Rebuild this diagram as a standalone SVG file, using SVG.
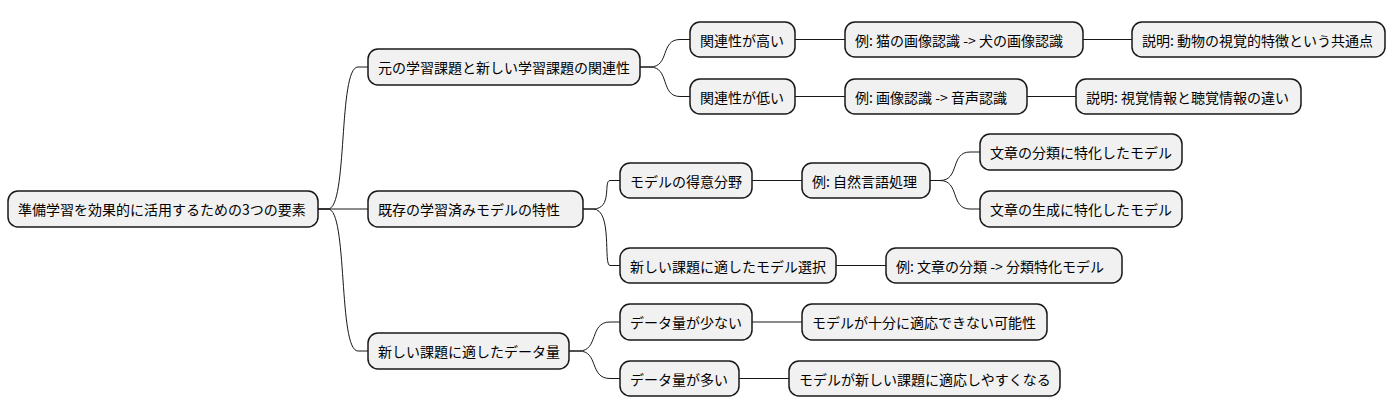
<svg xmlns="http://www.w3.org/2000/svg" width="1395" height="415" viewBox="0 0 1395 415">
<style>
.n rect{fill:#F1F1F1;stroke:#181818;stroke-width:1.5}
.n text{font-family:"Noto Sans CJK JP","Noto Sans",sans-serif;font-size:14px;fill:#000;dominant-baseline:central}
#c path{fill:none;stroke:#181818;stroke-width:1}
</style>
<rect width="1395" height="415" fill="#fff"/>
<g id="c">
<path d="M318,209 H328 C348,209 338,67 358,67 H368"/>
<path d="M318,209 H368"/>
<path d="M318,209 H328 C348,209 338,351 358,351 H368"/>
<path d="M640,67 H650 C670,67 660,39.5 680,39.5 H690"/>
<path d="M640,67 H650 C670,67 660,96.5 680,96.5 H690"/>
<path d="M795,39.5 H845"/><path d="M1083,39.5 H1132"/>
<path d="M795,96.5 H845"/><path d="M1027,96.5 H1076"/>
<path d="M583,209 H593 C613,209 603,180.5 610,180.5 H620"/>
<path d="M583,209 H593 C613,209 603,265.5 610,265.5 H620"/>
<path d="M752,180.5 H802"/>
<path d="M930,180.5 H940 C960,180.5 950,152 970,152 H980"/>
<path d="M930,180.5 H940 C960,180.5 950,209 970,209 H980"/>
<path d="M836,265.5 H886"/>
<path d="M569,351 H579 C599,351 589,322 610,322 H620"/>
<path d="M569,351 H579 C599,351 589,378.5 610,378.5 H620"/>
<path d="M752,322 H802"/><path d="M739,378.5 H789"/>
</g>
<g id="root" class="n"><rect x="8" y="191" width="310" height="36" rx="10"/><text x="18" y="209">準備学習を効果的に活用するための3つの要素</text></g>
<g id="a" class="n"><rect x="368" y="49" width="272" height="36" rx="10"/><text x="378" y="67">元の学習課題と新しい学習課題の関連性</text></g>
<g id="b" class="n"><rect x="368" y="191" width="215" height="36" rx="10"/><text x="378" y="209">既存の学習済みモデルの特性</text></g>
<g id="cc" class="n"><rect x="368" y="333" width="201" height="36" rx="10"/><text x="378" y="351">新しい課題に適したデータ量</text></g>
<g id="a1" class="n"><rect x="690" y="22" width="105" height="35" rx="10"/><text x="700" y="39.5">関連性が高い</text></g>
<g id="a2" class="n"><rect x="690" y="79" width="105" height="35" rx="10"/><text x="700" y="96.5">関連性が低い</text></g>
<g id="a1e" class="n"><rect x="845" y="22" width="238" height="35" rx="10"/><text x="855" y="39.5">例: 猫の画像認識 -&gt; 犬の画像認識</text></g>
<g id="a1d" class="n"><rect x="1132" y="22" width="253" height="35" rx="10"/><text x="1142" y="39.5">説明: 動物の視覚的特徴という共通点</text></g>
<g id="a2e" class="n"><rect x="845" y="79" width="182" height="35" rx="10"/><text x="855" y="96.5">例: 画像認識 -&gt; 音声認識</text></g>
<g id="a2d" class="n"><rect x="1076" y="79" width="225" height="35" rx="10"/><text x="1086" y="96.5">説明: 視覚情報と聴覚情報の違い</text></g>
<g id="b1" class="n"><rect x="620" y="163" width="132" height="35" rx="10"/><text x="630" y="180.5">モデルの得意分野</text></g>
<g id="b1e" class="n"><rect x="802" y="163" width="128" height="35" rx="10"/><text x="812" y="180.5">例: 自然言語処理</text></g>
<g id="b1a" class="n"><rect x="980" y="134" width="202" height="36" rx="10"/><text x="990" y="152">文章の分類に特化したモデル</text></g>
<g id="b1b" class="n"><rect x="980" y="191" width="202" height="36" rx="10"/><text x="990" y="209">文章の生成に特化したモデル</text></g>
<g id="b2" class="n"><rect x="620" y="248" width="216" height="35" rx="10"/><text x="630" y="265.5">新しい課題に適したモデル選択</text></g>
<g id="b2e" class="n"><rect x="886" y="248" width="236" height="35" rx="10"/><text x="896" y="265.5">例: 文章の分類 -&gt; 分類特化モデル</text></g>
<g id="c1" class="n"><rect x="620" y="304" width="132" height="36" rx="10"/><text x="630" y="322">データ量が少ない</text></g>
<g id="c1e" class="n"><rect x="802" y="304" width="245" height="36" rx="10"/><text x="812" y="322">モデルが十分に適応できない可能性</text></g>
<g id="c2" class="n"><rect x="620" y="361" width="119" height="35" rx="10"/><text x="630" y="378.5">データ量が多い</text></g>
<g id="c2e" class="n"><rect x="789" y="361" width="271" height="35" rx="10"/><text x="799" y="378.5">モデルが新しい課題に適応しやすくなる</text></g>
</svg>
